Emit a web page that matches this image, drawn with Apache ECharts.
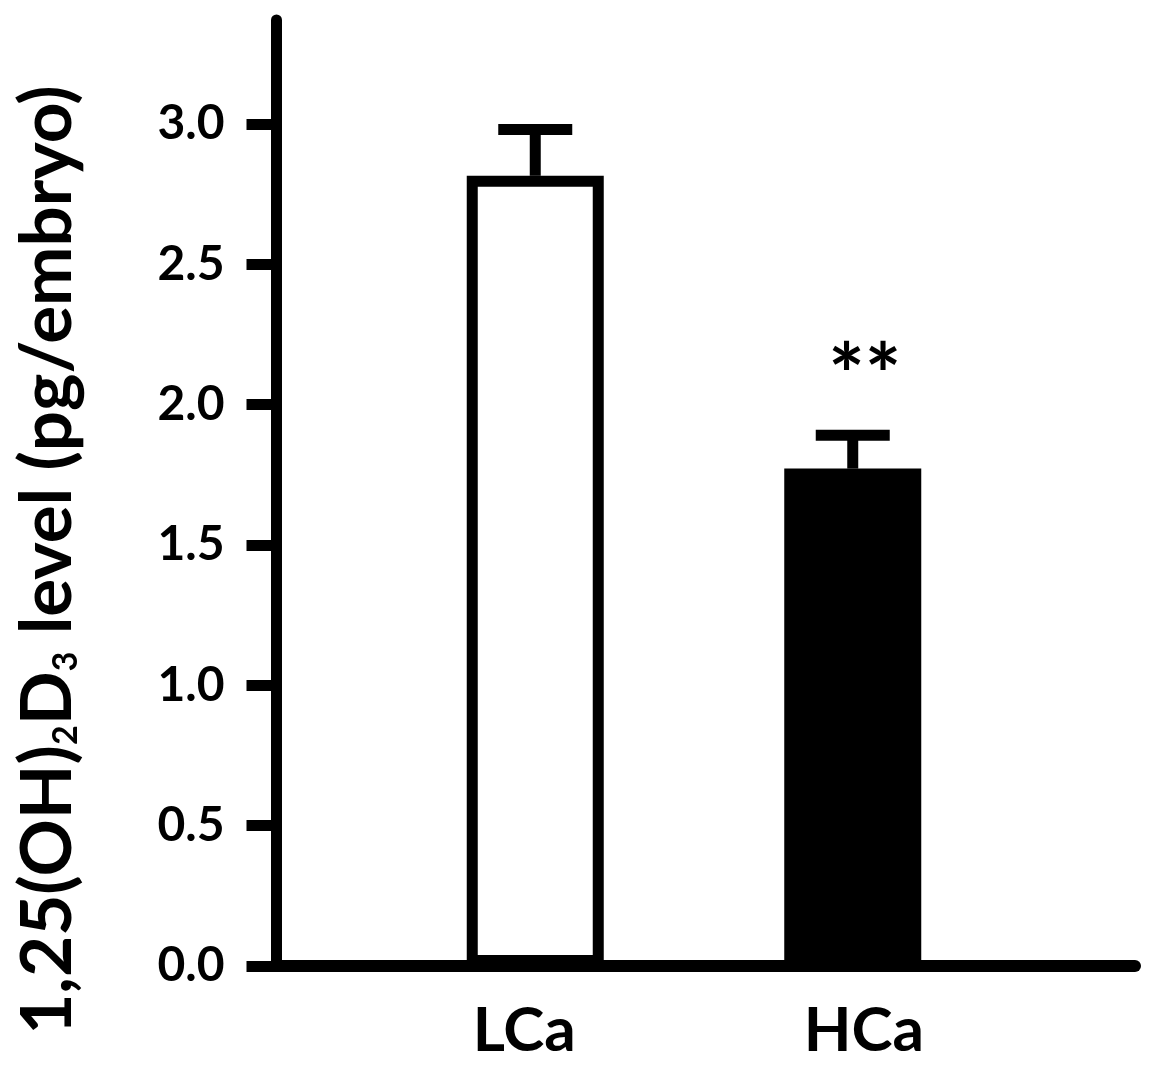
<!DOCTYPE html>
<html>
<head>
<meta charset="utf-8">
<script src="https://cdn.jsdelivr.net/npm/echarts@6/dist/echarts.min.js"></script>
<style>
  html, body { margin: 0; padding: 0; background: #fff; }
  #chart { width: 1154px; height: 1078px; }
</style>
</head>
<body>
<div id="chart"></div>
<script>
// data
var groups = ['LCa', 'HCa'];
var means = [2.815, 1.772];
var sems = [0.165, 0.119];
var marks = ['', '**'];
var yTicks = [0, 0.5, 1.0, 1.5, 2.0, 2.5, 3.0];
var yMax = 3.37;

var FONT = 'Lato';
var barFill = ['#ffffff', '#000000'];
// labels in the figure sit a little off the bar centres
var labelPad = [[0, 22, 0, 0], [0, 0, 0, 22]];

var chart = echarts.init(document.getElementById('chart'));

var option = {
    backgroundColor: '#fff',
    animation: false,
    grid: [
        // bars
        { left: 376.5, right: 142.5, top: 20, bottom: 112, outerBoundsMode: 'none' },
        // long baseline
        { left: 276.5, right: 19, top: 20, bottom: 112, outerBoundsMode: 'none' }
    ],
    xAxis: [{
        type: 'category',
        gridIndex: 0,
        data: groups.map(function (g, i) {
            return { value: g, textStyle: { padding: labelPad[i] } };
        }),
        axisLine: { show: false },
        axisTick: { show: false },
        axisLabel: {
            margin: 34,
            color: '#000',
            fontFamily: FONT,
            fontWeight: 'bold',
            fontSize: 62
        }
    }, {
        type: 'value',
        gridIndex: 1,
        min: 0,
        max: 1,
        splitLine: { show: false },
        axisTick: { show: false },
        axisLabel: { show: false },
        axisLine: { lineStyle: { color: '#000', width: 12 } }
    }],
    yAxis: [{
        type: 'value',
        gridIndex: 0,
        min: 0,
        max: yMax,
        offset: 100,
        name: '1,25(OH){sub|2}D{sub|3} level (pg/embryo)',
        nameLocation: 'middle',
        nameRotate: 90,
        nameGap: 193,
        nameTextStyle: {
            color: '#000',
            fontFamily: FONT,
            fontWeight: 'bold',
            fontSize: 71,
            padding: [0, 134, 0, 0],
            rich: {
                sub: {
                    fontFamily: FONT,
                    fontWeight: 'bold',
                    fontSize: 34,
                    verticalAlign: 'bottom',
                    padding: [28, 0, 0, 0]
                }
            }
        },
        splitLine: { show: false },
        axisLine: { show: true, lineStyle: { color: '#000', width: 11 } },
        axisTick: {
            show: true,
            length: 30,
            customValues: yTicks,
            lineStyle: { color: '#000', width: 11 }
        },
        axisLabel: {
            customValues: yTicks,
            margin: 52,
            color: '#000',
            fontFamily: FONT,
            fontWeight: 'bold',
            fontSize: 48,
            formatter: function (v) { return v.toFixed(1); }
        }
    }, {
        type: 'value',
        gridIndex: 1,
        min: 0,
        max: yMax,
        show: false
    }],
    series: [{
        type: 'bar',
        xAxisIndex: 0,
        yAxisIndex: 0,
        barWidth: 137,
        z: 3,
        data: means.map(function (v, i) {
            return {
                value: v,
                itemStyle: { color: barFill[i], borderColor: '#000', borderWidth: 11 }
            };
        })
    }, {
        type: 'custom',
        xAxisIndex: 0,
        yAxisIndex: 0,
        z: 4,
        data: means.map(function (v, i) { return [i, v, sems[i]]; }),
        renderItem: function (params, api) {
            var i = api.value(0);
            var base = api.coord([i, api.value(1)]);
            var top = api.coord([i, api.value(1) + api.value(2)]);
            var half = 37;
            var style = { stroke: '#000', lineWidth: 11 };
            var kids = [
                { type: 'line', shape: { x1: base[0], y1: base[1], x2: top[0], y2: top[1] }, style: style },
                { type: 'line', shape: { x1: top[0] - half, y1: top[1], x2: top[0] + half, y2: top[1] }, style: style }
            ];
            if (marks[i]) {
                kids.push({
                    type: 'text',
                    x: top[0] + 12,
                    y: top[1] - 57,
                    style: {
                        text: marks[i],
                        fill: '#000',
                        font: 'bold 86px ' + FONT,
                        align: 'center',
                        verticalAlign: 'middle'
                    }
                });
            }
            return { type: 'group', children: kids };
        }
    }]
};

chart.setOption(option);
</script>
</body>
</html>
